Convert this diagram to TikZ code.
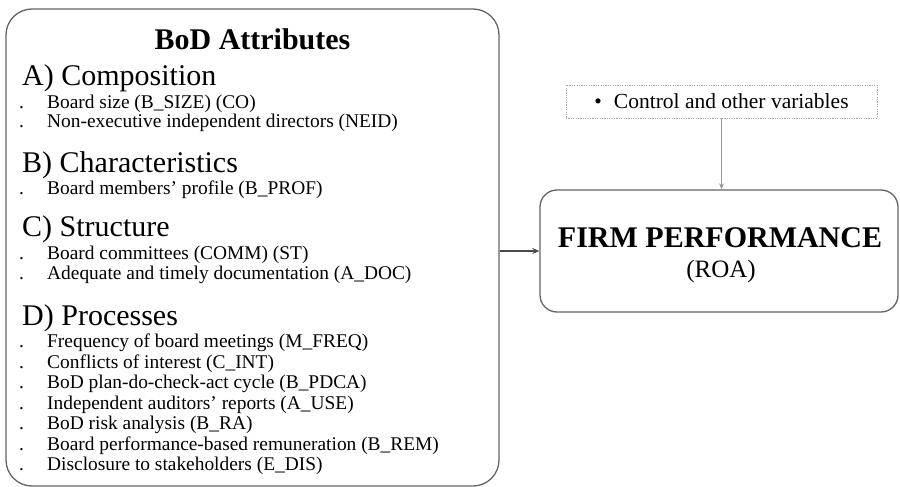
\documentclass[tikz,border=0pt]{standalone}
\usepackage{fontspec}
\setmainfont{Liberation Serif}
\usetikzlibrary{arrows.meta}
\definecolor{boxline}{HTML}{646464}
\definecolor{arrdark}{HTML}{4A4A4A}
\definecolor{arrlight}{HTML}{9A9A9A}
\definecolor{dotline}{HTML}{A8A8A8}
\begin{document}
\begin{tikzpicture}[x=1pt,y=-1pt,
  lbox/.style={draw=boxline, line width=1.3pt, rounded corners=26pt, inner sep=0pt},
  rbox/.style={draw=boxline, line width=1.3pt, rounded corners=17pt, inner sep=0pt},
  ctrlbox/.style={draw=dotline, line width=0.8pt, dash pattern=on 1.2pt off 1.2pt, inner sep=0pt,
    minimum width=311pt, minimum height=33pt, font=\fontsize{21.5}{22}\selectfont},
  title/.style={anchor=base, inner sep=0pt, font=\fontsize{30}{30}\selectfont\bfseries},
  hd/.style={anchor=base west, inner sep=0pt, font=\fontsize{30}{30}\selectfont},
  itm/.style={anchor=base west, inner sep=0pt, font=\fontsize{19.4}{20}\selectfont},
  arrd/.style={draw=arrdark, line width=1.2pt, -{Stealth[length=7pt,width=6pt]}},
  arrl/.style={draw=arrlight, line width=0.9pt, -{Stealth[length=6pt,width=5pt]}}
]
\useasboundingbox (0,0) rectangle (900,487);

% left box
\node[lbox, minimum width=493pt, minimum height=477pt] (lbox) at (252.5,247.5) {};
\node[title] (bodt) at (252.5,50) {BoD Attributes};

\node[hd] (ha) at (22,85) {A) Composition};
\node[itm] (a1) at (47,108) {Board size (B\_SIZE) (CO)};
\node[itm] (a2) at (47,128) {Non-executive independent directors (NEID)};

\node[hd] (hb) at (22,172) {B) Characteristics};
\node[itm] (b1) at (47,194.5) {Board members’ profile (B\_PROF)};

\node[hd] (hc) at (22,236.5) {C) Structure};
\node[itm] (c1) at (47,259) {Board committees (COMM) (ST)};
\node[itm] (c2) at (47,279.5) {Adequate and timely documentation (A\_DOC)};

\node[hd] (hdp) at (22,325) {D) Processes};
\node[itm] (d1) at (47,347.5) {Frequency of board meetings (M\_FREQ)};
\node[itm] (d2) at (47,368) {Conflicts of interest (C\_INT)};
\node[itm] (d3) at (47,388.5) {BoD plan-do-check-act cycle (B\_PDCA)};
\node[itm] (d4) at (47,409) {Independent auditors’ reports (A\_USE)};
\node[itm] (d5) at (47,429.5) {BoD risk analysis (B\_RA)};
\node[itm] (d6) at (47,450) {Board performance-based remuneration (B\_REM)};
\node[itm] (d7) at (47,470.5) {Disclosure to stakeholders (E\_DIS)};

\foreach \yy [count=\i] in {108,128,194.5,259,279.5,347.5,368,388.5,409,429.5,450,470.5}
  \node[itm] (dot\i) at (19,\yy) {.};

% right side
\node[ctrlbox] (ctrl) at (721.5,101.5) {•\hspace{12pt}Control and other variables};
\node[rbox, minimum width=358pt, minimum height=122pt] (rbox) at (719,251) {};
\node[title] (fp) at (720,247) {FIRM PERFORMANCE};
\node[anchor=base, inner sep=0pt, font=\fontsize{25}{25}\selectfont] (roa) at (721,277) {(ROA)};

% connectors
\draw[arrd] (lbox.east |- rbox.west) -- (rbox.west);
\draw[arrl] (ctrl.south) -- (ctrl.south |- rbox.north);
\end{tikzpicture}
\end{document}
